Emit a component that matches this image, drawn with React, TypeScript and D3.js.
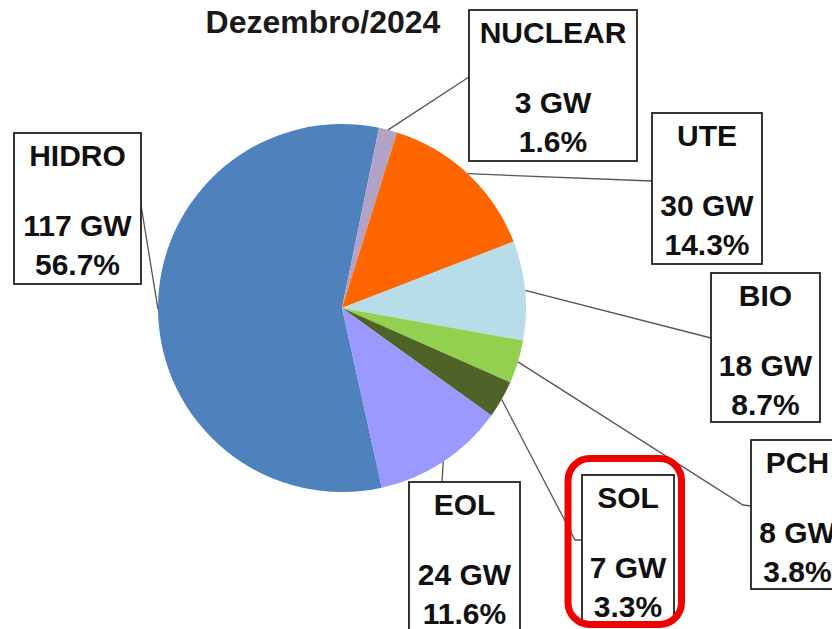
import React, { useEffect } from "react";
import * as d3 from "d3";

// ---- data ----
const categories = ["HIDRO", "NUCLEAR", "UTE", "BIO", "PCH", "SOL", "EOL"];
const capacityGW = [117, 3, 30, 18, 8, 7, 24];
const sharePct = [56.7, 1.6, 14.3, 8.7, 3.8, 3.3, 11.6];
const title = "Dezembro/2024";

// ---- style / layout ----
const W = 832;
const H = 629;
const colors = ["#4F81BD", "#B3A2C7", "#FF6600", "#B7DEE8", "#92D050", "#4F6228", "#9999FF"];
const CX = 342;
const CY = 308;
const R = 184;
const START_DEG = 167.5;
const FONT = "'Liberation Sans', Arial, Helvetica, sans-serif";

// label boxes: x, y, w, h, anchor point on box, optional elbow point
const boxes: { x: number; y: number; w: number; h: number; ax: number; ay: number; ex?: number; ey?: number }[] = [
  { x: 14, y: 133, w: 127, h: 151, ax: 141, ay: 205 },
  { x: 469, y: 10, w: 168, h: 151, ax: 469, ay: 77 },
  { x: 652, y: 113, w: 110, h: 151, ax: 652, ay: 181 },
  { x: 711, y: 273, w: 109, h: 149, ax: 711, ay: 338 },
  { x: 751, y: 440, w: 93, h: 149, ax: 751, ay: 506, ex: 743, ey: 505 },
  { x: 582, y: 475, w: 92, h: 147, ax: 582, ay: 540, ex: 575, ey: 540 },
  { x: 409, y: 482, w: 111, h: 160, ax: 442, ay: 482 },
];

export default function App() {
  useEffect(() => {
    document.body.style.margin = "0";
  }, []);

  const toRad = (d: number) => (d * Math.PI) / 180;
  const pie = d3
    .pie<number>()
    .sort(null)
    .value((d) => d)
    .startAngle(toRad(START_DEG))
    .endAngle(toRad(START_DEG) + 2 * Math.PI);
  const arcs = pie(sharePct);
  const arcGen = d3.arc<d3.PieArcDatum<number>>().innerRadius(0).outerRadius(R);

  const pt = (a: number, r: number) => [CX + r * Math.sin(a), CY - r * Math.cos(a)];

  return (
    <svg
      width={W}
      height={H}
      viewBox={`0 0 ${W} ${H}`}
      style={{ position: "absolute", left: 0, top: 0, display: "block", background: "#fff" }}
    >
      <rect x={0} y={0} width={W} height={H} fill="#fff" />
      <text x={323} y={33} textAnchor="middle" fontFamily={FONT} fontWeight="bold" fontSize={32} fill="#1a1a1a">
        {title}
      </text>

      <g transform={`translate(${CX},${CY})`}>
        {arcs.map((a, i) => (
          <path key={categories[i]} d={arcGen(a) || ""} fill={colors[i]} />
        ))}
      </g>

      {arcs.map((a, i) => {
        const mid = (a.startAngle + a.endAngle) / 2;
        const [px, py] = pt(mid, R);
        const b = boxes[i];
        const pts = [[px, py]];
        if (b.ex !== undefined && b.ey !== undefined) pts.push([b.ex, b.ey]);
        pts.push([b.ax, b.ay]);
        const line = d3.line()(pts as [number, number][]) || "";
        return <path key={"l" + i} d={line} fill="none" stroke="#555" strokeWidth={1.3} />;
      })}

      {categories.map((c, i) => {
        const b = boxes[i];
        const cx = b.x + b.w / 2;
        return (
          <g key={"b" + c}>
            <rect x={b.x} y={b.y} width={b.w} height={b.h} fill="#fff" stroke="#222" strokeWidth={1.8} />
            <text fontFamily={FONT} fontWeight="bold" fontSize={30} fill="#111" textAnchor="middle">
              <tspan x={cx} y={b.y + 33}>{c}</tspan>
              <tspan x={cx} y={b.y + 103}>{`${capacityGW[i]} GW`}</tspan>
              <tspan x={cx} y={b.y + 142}>{`${sharePct[i].toFixed(1)}%`}</tspan>
            </text>
          </g>
        );
      })}

      <rect x={568} y={458.5} width={113.5} height={166} rx={22} ry={22} fill="none" stroke="#F00000" strokeWidth={7} />
    </svg>
  );
}
